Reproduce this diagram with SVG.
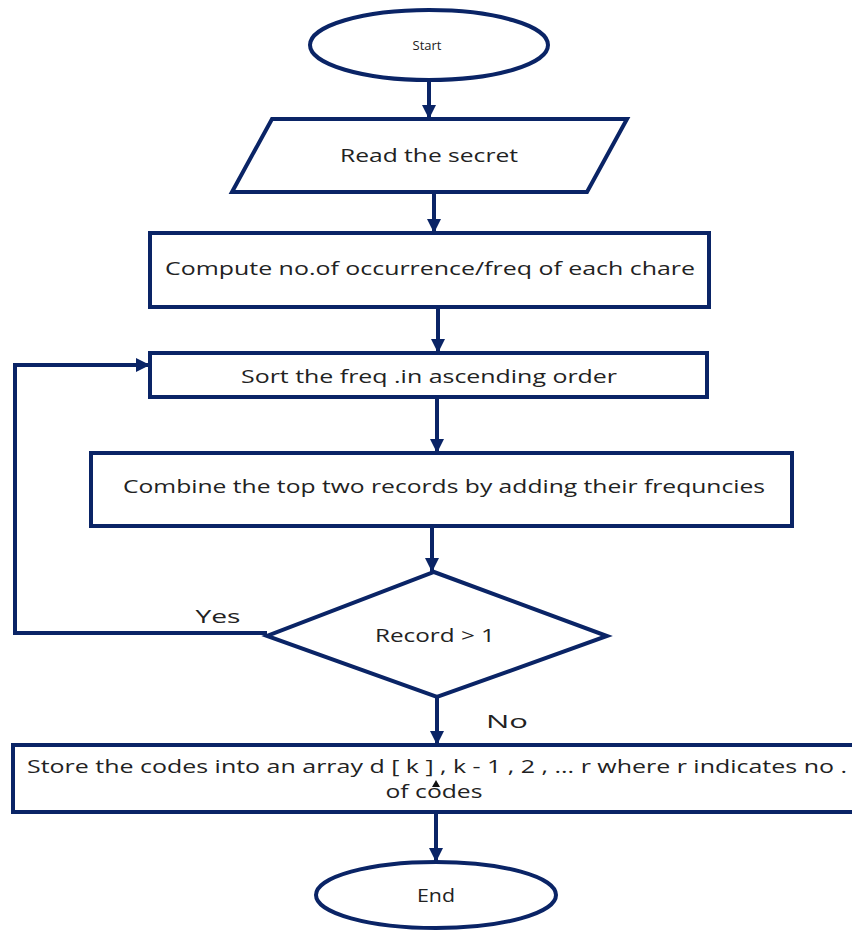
<svg xmlns="http://www.w3.org/2000/svg" width="852" height="930" viewBox="0 0 852 930">
  <defs>
    <marker id="head" markerUnits="userSpaceOnUse" markerWidth="16" markerHeight="14" refX="14" refY="7" orient="auto">
      <path d="M0,0 L14,7 L0,14 Z" fill="#0a2466"/>
    </marker>
    <style>
      .shape { fill: #ffffff; stroke: #0a2466; stroke-width: 4; stroke-linejoin: miter; }
      .edge { fill: none; stroke: #0a2466; stroke-width: 4; marker-end: url(#head); }
      .lbl { font-family: "Open Sans", "Liberation Sans", sans-serif; fill: #222222; text-anchor: middle; }
      .big { font-size: 19px; }
    </style>
  </defs>
  <rect width="852" height="930" fill="#ffffff"/>

  <g id="connectors">
    <path class="edge" d="M429,80 L429,119"/>
    <path class="edge" d="M434,192 L434,233"/>
    <path class="edge" d="M438,307 L438,353"/>
    <path class="edge" d="M437,397 L437,453"/>
    <path class="edge" d="M432,526 L432,572"/>
    <path class="edge" d="M437,697 L437,745"/>
    <path class="edge" d="M436,810 L436,862"/>
    <path class="edge" d="M267,633 L15,633 L15,365 L150,365"/>
  </g>

  <g id="start">
    <ellipse class="shape" cx="429" cy="45" rx="119" ry="35"/>
    <text class="lbl" x="427" y="50" font-size="13">Start</text>
  </g>

  <g id="read">
    <polygon class="shape" points="272,119 627,119 587,192 232,192"/>
    <text class="lbl big" x="429" y="162" textLength="178" lengthAdjust="spacingAndGlyphs">Read the secret</text>
  </g>

  <g id="compute">
    <rect class="shape" x="150" y="233" width="559" height="74"/>
    <text class="lbl big" x="430" y="275" textLength="530" lengthAdjust="spacingAndGlyphs">Compute no.of occurrence/freq of each chare</text>
  </g>

  <g id="sort">
    <rect class="shape" x="150" y="353" width="557" height="44"/>
    <text class="lbl big" x="429" y="383" textLength="376" lengthAdjust="spacingAndGlyphs">Sort the freq .in ascending order</text>
  </g>

  <g id="combine">
    <rect class="shape" x="91" y="453" width="701" height="73"/>
    <text class="lbl big" x="444" y="493" textLength="642" lengthAdjust="spacingAndGlyphs">Combine the top two records by adding their frequncies</text>
  </g>

  <g id="decision">
    <polygon class="shape" points="434,572 607,636 437,697 267,636"/>
    <text class="lbl big" x="435" y="642" textLength="120" lengthAdjust="spacingAndGlyphs">Record &gt; 1</text>
  </g>

  <g id="edge-labels">
    <text class="lbl big" x="218" y="623" textLength="45" lengthAdjust="spacingAndGlyphs">Yes</text>
    <text class="lbl big" x="507" y="728" textLength="42" lengthAdjust="spacingAndGlyphs">No</text>
  </g>

  <g id="store">
    <rect class="shape" x="13" y="745" width="850" height="67"/>
    <text class="lbl big" x="437" y="773" textLength="820" lengthAdjust="spacingAndGlyphs">Store the codes into an array d [ k ] , k - 1 , 2 , ... r where r indicates no .</text>
    <text class="lbl big" x="434" y="798" textLength="97" lengthAdjust="spacingAndGlyphs">of codes</text>
    <polygon points="436,780 440,787 432,787" fill="#111111"/>
  </g>

  <g id="end">
    <ellipse class="shape" cx="436" cy="895" rx="120" ry="33"/>
    <text class="lbl big" x="436" y="902" textLength="38" lengthAdjust="spacingAndGlyphs">End</text>
  </g>
</svg>
